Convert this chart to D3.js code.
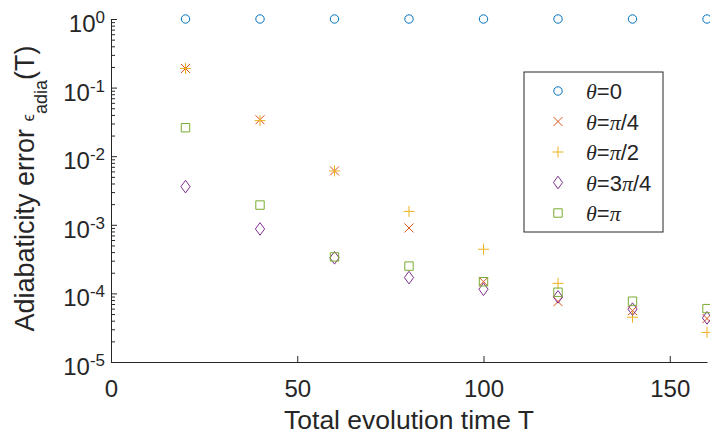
<!DOCTYPE html>
<html>
<head>
<meta charset="utf-8">
<script src="https://cdn.jsdelivr.net/npm/d3@7"></script>
<style>
  body { margin: 0; background: #fff; }
  text { font-family: "Liberation Sans", Arial, sans-serif; fill: #262626; }
</style>
</head>
<body>
<div id="chart"></div>
<script>
// datos
const tiempos = [20, 40, 60, 80, 100, 120, 140, 160];
const theta0 = [1, 1, 1, 1, 1, 1, 1, 1];
const thetaCuarto = [0.19, 0.034, 0.0061, 9.0e-4, 1.48e-4, 7.6e-5, 5.6e-5, 4.3e-5];
const thetaMedio = [0.19, 0.033, 0.0061, 1.57e-3, 4.4e-4, 1.4e-4, 4.5e-5, 2.7e-5];
const thetaTresCuartos = [3.6e-3, 8.7e-4, 3.3e-4, 1.7e-4, 1.15e-4, 8.9e-5, 5.9e-5, 4.4e-5];
const thetaPi = [0.026, 1.94e-3, 3.4e-4, 2.5e-4, 1.48e-4, 1.04e-4, 7.7e-5, 6.0e-5];

const ticksX = [0, 50, 100, 150];
const exponentesY = [0, -1, -2, -3, -4, -5];

const series = [
  { nombre: ["0"], valores: theta0, marca: "circulo", color: "#0072BD" },
  { nombre: ["π", "/4"], valores: thetaCuarto, marca: "cruz", color: "#D95319" },
  { nombre: ["π", "/2"], valores: thetaMedio, marca: "mas", color: "#EDB120" },
  { nombre: ["3", "π", "/4"], valores: thetaTresCuartos, marca: "rombo", color: "#7E2F8E" },
  { nombre: ["π"], valores: thetaPi, marca: "cuadrado", color: "#77AC30" }
];

const width = 710, height = 436;
const margen = { left: 111, right: 3, top: 19, bottom: 74 };

const svg = d3.select("#chart").append("svg")
  .attr("width", width)
  .attr("height", height);

const x = d3.scaleLinear().domain([0, 160]).range([margen.left, width - margen.right]);
const y = d3.scaleLog().domain([1e-5, 1]).range([height - margen.bottom, margen.top]);

// formas de los marcadores
function marcador(tipo) {
  switch (tipo) {
    case "circulo": return "M4.2,0A4.2,4.2 0 1,1 -4.2,0A4.2,4.2 0 1,1 4.2,0Z";
    case "cruz": return "M-4.5,-4.5L4.5,4.5M-4.5,4.5L4.5,-4.5";
    case "mas": return "M-5.5,0L5.5,0M0,-5.5L0,5.5";
    case "rombo": return "M0,-6.3L4.6,0L0,6.3L-4.6,0Z";
    case "cuadrado": return "M-4.2,-4.2H4.2V4.2H-4.2Z";
  }
}

// eje x
const ejeX = svg.append("g")
  .attr("transform", `translate(0,${y(1e-5)})`)
  .call(d3.axisBottom(x).tickValues(ticksX).tickSizeInner(-6).tickSizeOuter(0).tickPadding(18));
ejeX.select(".domain").attr("stroke", "#262626");
ejeX.selectAll(".tick line").attr("stroke", "#262626");
ejeX.selectAll(".tick text").attr("font-size", 24).attr("font-family", null).attr("fill", "#262626");

// eje y (log) con ticks menores
const menores = [];
exponentesY.slice(1).forEach(e => {
  for (let k = 2; k <= 9; k++) menores.push(k * Math.pow(10, e));
});
const ejeYmenor = svg.append("g")
  .attr("transform", `translate(${x(0)},0)`)
  .call(d3.axisLeft(y).tickValues(menores).tickSizeInner(-4).tickSizeOuter(0).tickFormat(""));
ejeYmenor.select(".domain").remove();
ejeYmenor.selectAll(".tick line").attr("stroke", "#262626");

const ejeY = svg.append("g")
  .attr("transform", `translate(${x(0)},0)`)
  .call(d3.axisLeft(y).tickValues(exponentesY.map(e => Math.pow(10, e))).tickSizeInner(-6).tickSizeOuter(0).tickFormat(""));
ejeY.select(".domain").attr("stroke", "#262626");
ejeY.selectAll(".tick line").attr("stroke", "#262626");

const etiquetasY = svg.append("g");
exponentesY.forEach(e => {
  const t = etiquetasY.append("text")
    .attr("x", x(0) - 6)
    .attr("y", y(Math.pow(10, e)) + 13)
    .attr("text-anchor", "end");
  t.append("tspan").attr("font-size", 24).text("10");
  t.append("tspan").attr("font-size", 17).attr("dy", -9).text(e === 0 ? "0" : "-" + Math.abs(e));
});

// titulos de ejes
svg.append("text")
  .attr("x", (x(0) + x(160)) / 2)
  .attr("y", 429)
  .attr("text-anchor", "middle")
  .attr("font-size", 26.5)
  .text("Total evolution time T");

const tituloY = svg.append("text")
  .attr("transform", `translate(34,${(y(1) + y(1e-5)) / 2 - 2}) rotate(-90)`)
  .attr("text-anchor", "middle");
tituloY.append("tspan").attr("font-size", 27).text("Adiabaticity error ");
tituloY.append("tspan").attr("font-size", 17).text("ϵ");
tituloY.append("tspan").attr("font-size", 18).attr("dy", 13).text("adia");
tituloY.append("tspan").attr("font-size", 27).attr("dy", -13).text("(T)");

// puntos
const grupoPuntos = svg.append("g");
series.forEach(s => {
  grupoPuntos.append("g")
    .selectAll("path")
    .data(s.valores.map((v, i) => ({ t: tiempos[i], v: v })))
    .join("path")
    .attr("transform", d => `translate(${x(d.t)},${y(d.v)})`)
    .attr("d", marcador(s.marca))
    .attr("fill", "none")
    .attr("stroke", s.color)
    .attr("stroke-width", 1);
});

// leyenda
const leyenda = svg.append("g").attr("transform", "translate(524,72)");
leyenda.append("rect")
  .attr("width", 139)
  .attr("height", 160)
  .attr("fill", "#fff")
  .attr("stroke", "#262626")
  .attr("stroke-width", 1);

series.forEach((s, i) => {
  const cy = 19 + i * 30.5;
  leyenda.append("path")
    .attr("transform", `translate(34,${cy})`)
    .attr("d", marcador(s.marca))
    .attr("fill", "none")
    .attr("stroke", s.color);
  const txt = leyenda.append("text")
    .attr("x", 62)
    .attr("y", cy + 8)
    .attr("font-size", 22);
  txt.append("tspan").attr("font-family", "Liberation Serif, serif").attr("font-style", "italic").text("θ");
  txt.append("tspan").text("=");
  s.nombre.forEach(p => {
    if (p === "π") txt.append("tspan").attr("font-family", "Liberation Serif, serif").attr("font-style", "italic").text("π");
    else txt.append("tspan").text(p);
  });
});
</script>
</body>
</html>
